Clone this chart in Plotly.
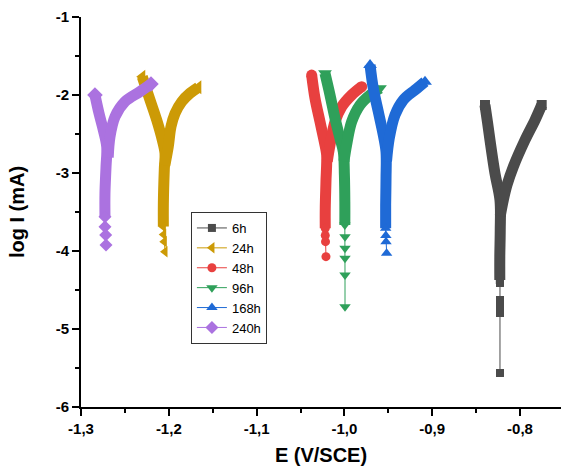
import plotly.graph_objects as go

# ---- data ----
series_names = ["6h", "24h", "48h", "96h", "168h", "240h"]

# 6h
E_6h_cath = [-0.8399, -0.8370, -0.8342, -0.8285, -0.8228, -0.8225, -0.8230, -0.8230]
L_6h_cath = [-2.128, -2.35, -2.577, -3.004, -3.346, -3.731, -4.073, -4.372]
E_6h_anod = [-0.8225, -0.8190, -0.8148, -0.8076, -0.7943, -0.7829, -0.7753]
L_6h_anod = [-3.55, -3.346, -3.154, -2.919, -2.577, -2.321, -2.128]
E_6h_tail = [-0.8230, -0.8228, -0.8228, -0.8228, -0.8228, -0.8228]
L_6h_tail = [-4.372, -4.41, -4.628, -4.718, -4.795, -5.564]

# 24h
E_24h_cath = [-1.2302, -1.2214, -1.2138, -1.2074, -1.2043, -1.2051, -1.2062, -1.2062]
L_24h_cath = [-1.765, -2.064, -2.32, -2.577, -2.748, -2.947, -3.389, -3.688]
E_24h_anod = [-1.2045, -1.2006, -1.1975, -1.1929, -1.1853, -1.1759, -1.1664]
L_24h_anod = [-2.9, -2.663, -2.406, -2.235, -2.086, -1.978, -1.901]
E_24h_tail = [-1.2062, -1.2058, -1.2051, -1.2043]
L_24h_tail = [-3.688, -3.79, -3.88, -4.009]

# 48h
E_48h_cath = [-1.0373, -1.0335, -1.0278, -1.0221, -1.0202, -1.0210, -1.0218, -1.0218]
L_48h_cath = [-1.744, -2.042, -2.342, -2.641, -2.769, -3.111, -3.453, -3.709]
E_48h_anod = [-1.0195, -1.0164, -1.0107, -1.0031, -0.9917, -0.9803]
L_48h_anod = [-2.85, -2.641, -2.342, -2.15, -2.0, -1.893]
E_48h_tail = [-1.0218, -1.0218, -1.0215, -1.0210]
L_48h_tail = [-3.709, -3.80, -3.88, -4.073]

# 96h
E_96h_cath = [-1.0221, -1.0164, -1.0107, -1.0050, -1.0012, -1.0000, -0.9995, -0.9995]
L_96h_cath = [-1.722, -2.0, -2.299, -2.556, -2.727, -3.026, -3.368, -3.667]
E_96h_anod = [-1.0005, -0.9975, -0.9917, -0.9822, -0.9708, -0.9595]
L_96h_anod = [-2.85, -2.641, -2.342, -2.128, -2.0, -1.914]
E_96h_tail = [-0.9995, -0.9993, -0.9993, -0.9993, -0.9993, -0.9993]
L_96h_tail = [-3.667, -3.816, -3.966, -4.094, -4.308, -4.714]

# 168h
E_168h_cath = [-0.9708, -0.9671, -0.9614, -0.9557, -0.9526, -0.9526, -0.9530, -0.9530]
L_168h_cath = [-1.615, -1.914, -2.214, -2.513, -2.727, -3.068, -3.41, -3.709]
E_168h_anod = [-0.9520, -0.9489, -0.9424, -0.9329, -0.9196, -0.9082]
L_168h_anod = [-2.85, -2.556, -2.256, -2.064, -1.936, -1.829]
E_168h_tail = [-0.9530, -0.9528, -0.9526, -0.9519]
L_168h_tail = [-3.709, -3.80, -3.88, -4.03]

# 240h
E_240h_cath = [-1.2841, -1.2795, -1.2746, -1.2707, -1.2715, -1.2727, -1.2727]
L_240h_cath = [-2.0, -2.235, -2.449, -2.663, -2.919, -3.26, -3.56]
E_240h_anod = [-1.2690, -1.2670, -1.2613, -1.2499, -1.2328, -1.2203]
L_240h_anod = [-2.8, -2.535, -2.278, -2.086, -1.957, -1.859]
E_240h_tail = [-1.2727, -1.2727, -1.2719, -1.2715]
L_240h_tail = [-3.56, -3.69, -3.795, -3.923]

x_tick_vals = [-1.3, -1.2, -1.1, -1.0, -0.9, -0.8]
x_tick_text = ["-1,3", "-1,2", "-1,1", "-1,0", "-0,9", "-0,8"]
y_tick_vals = [-6, -5, -4, -3, -2, -1]
y_tick_text = ["-6", "-5", "-4", "-3", "-2", "-1"]

# ---- styles ----
colors = {"6h": "#4b4b4b", "24h": "#cc9a06", "48h": "#e8403f",
          "96h": "#2fa05a", "168h": "#1f6ad6", "240h": "#ab72e0"}
symbols = {"6h": "square", "24h": "triangle-left", "48h": "circle",
           "96h": "triangle-down", "168h": "triangle-up", "240h": "diamond"}
msizes = {"6h": 8, "24h": 10, "48h": 9, "96h": 10, "168h": 10, "240h": 10}

data = {
    "6h": (E_6h_cath, L_6h_cath, E_6h_anod, L_6h_anod, E_6h_tail, L_6h_tail),
    "24h": (E_24h_cath, L_24h_cath, E_24h_anod, L_24h_anod, E_24h_tail, L_24h_tail),
    "48h": (E_48h_cath, L_48h_cath, E_48h_anod, L_48h_anod, E_48h_tail, L_48h_tail),
    "96h": (E_96h_cath, L_96h_cath, E_96h_anod, L_96h_anod, E_96h_tail, L_96h_tail),
    "168h": (E_168h_cath, L_168h_cath, E_168h_anod, L_168h_anod, E_168h_tail, L_168h_tail),
    "240h": (E_240h_cath, L_240h_cath, E_240h_anod, L_240h_anod, E_240h_tail, L_240h_tail),
}

FONT = "Liberation Sans, Arial, sans-serif"
fig = go.Figure()
for name in series_names:
    Ec, Lc, Ea, La, Et, Lt = data[name]
    c = colors[name]
    for ex, ly in ((Ec, Lc), (Ea, La)):
        fig.add_trace(go.Scatter(
            x=ex, y=ly, mode="lines", showlegend=False, hoverinfo="skip",
            line=dict(color=c, width=11, shape="spline", smoothing=1.0)))
    # end markers of the branches
    fig.add_trace(go.Scatter(
        x=[Ec[0], Ea[-1]], y=[Lc[0], La[-1]], mode="markers", showlegend=False,
        hoverinfo="skip",
        marker=dict(symbol=symbols[name], size=msizes[name] + 2, color=c)))
    fig.add_trace(go.Scatter(
        x=Et, y=Lt, mode="lines+markers", name=name,
        line=dict(color=c, width=1),
        marker=dict(symbol=symbols[name], size=msizes[name], color=c)))

axis_common = dict(
    showline=True, linecolor="black", linewidth=2, mirror=False,
    ticks="outside", ticklen=7, tickwidth=2, tickcolor="black",
    showgrid=False, zeroline=False,
    tickfont=dict(family=FONT, size=15, color="black", weight="bold"),
)

fig.update_layout(
    width=561, height=468,
    margin=dict(l=81, r=0, t=17, b=61),
    paper_bgcolor="white", plot_bgcolor="white",
    font=dict(family=FONT, color="black"),
    xaxis=dict(range=[-1.3, -0.7533], tickvals=x_tick_vals, ticktext=x_tick_text,
               minor=dict(ticks="outside", ticklen=4, tickwidth=2, tickcolor="black", dtick=0.05, tick0=-1.3),
               title=dict(text="E (V/SCE)", font=dict(family=FONT, size=20, weight="bold"), standoff=12),
               **axis_common),
    yaxis=dict(range=[-6, -1], tickvals=y_tick_vals, ticktext=y_tick_text,
               minor=dict(ticks="outside", ticklen=4, tickwidth=2, tickcolor="black", dtick=0.5, tick0=-6),
               title=dict(text="log I (mA)", font=dict(family=FONT, size=20, weight="bold"), standoff=26),
               **axis_common),
    legend=dict(x=0.229, y=0.5, xanchor="left", yanchor="top",
                bgcolor="white", bordercolor="#333333", borderwidth=1,
                font=dict(family=FONT, size=13, color="black"),
                tracegroupgap=0, itemwidth=30),
)

fig.write_html("out.html")
